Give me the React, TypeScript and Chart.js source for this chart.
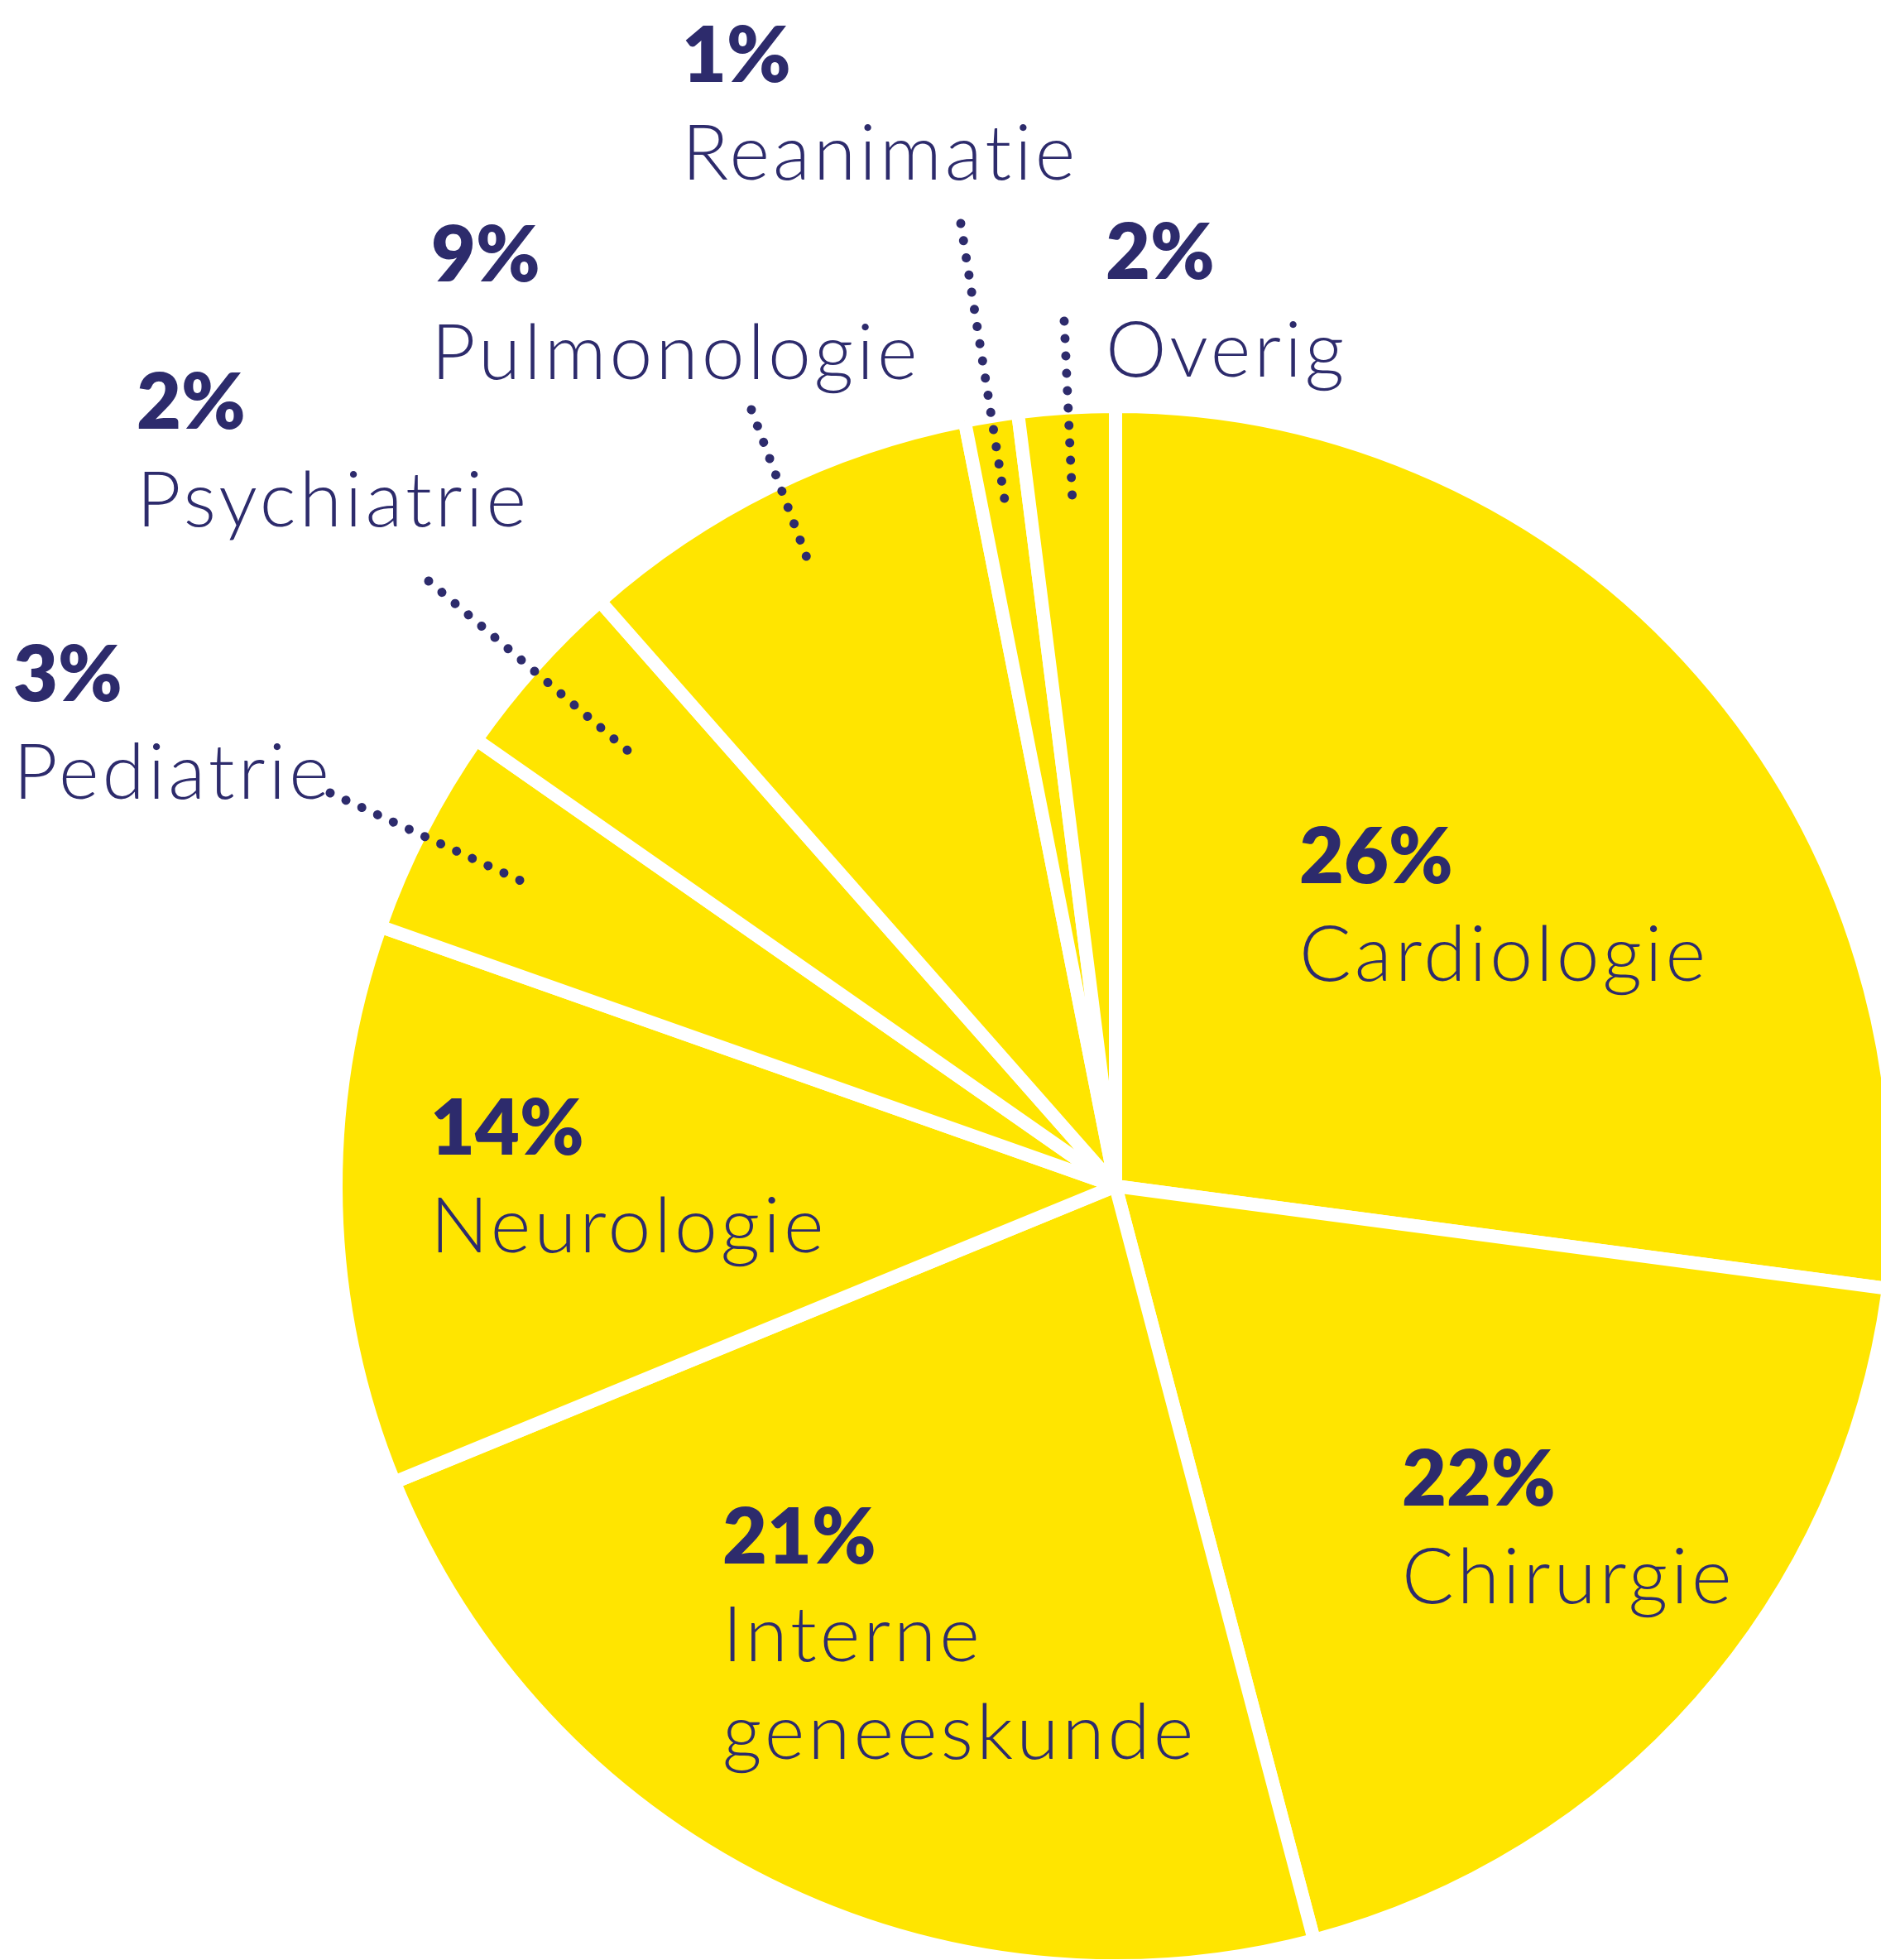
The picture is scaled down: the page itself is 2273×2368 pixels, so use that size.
import { useEffect, useRef } from "react";
import { Chart, registerables } from "chart.js";

Chart.register(...registerables);

// ---- data ----
const categories = [
  "Cardiologie",
  "Chirurgie",
  "Interne geneeskunde",
  "Neurologie",
  "Pediatrie",
  "Psychiatrie",
  "Pulmonologie",
  "Reanimatie",
  "Overig",
];
// slice sizes as drawn in the picture (share of the full circle, %)
const sliceShares = [27.1, 18.8, 22.9, 11.6, 4.3, 3.8, 8.4, 1.1, 2.0];
// percentages as printed on the picture
const percentLabels = ["26%", "22%", "21%", "14%", "3%", "2%", "9%", "1%", "2%"];
// category names as printed (line breaks)
const nameLines = [
  ["Cardiologie"],
  ["Chirurgie"],
  ["Interne", "geneeskunde"],
  ["Neurologie"],
  ["Pediatrie"],
  ["Psychiatrie"],
  ["Pulmonologie"],
  ["Reanimatie"],
  ["Overig"],
];

// ---- layout / style ----
const W = 2273;
const H = 2368;
const SLICE_COLOR = "#ffe500";
const TEXT_COLOR = "#2d2b6c";
const FONT_FAMILY = "Lato, 'Open Sans', sans-serif";
const FONT_SIZE = 93;
const LINE_GAP = 118;

type LabelLayout = { x: number; y: number; leader?: { x: number; y: number; r: number } };
const labelLayout: LabelLayout[] = [
  { x: 1570, y: 1067 },
  { x: 1694, y: 1819 },
  { x: 873, y: 1889 },
  { x: 520, y: 1395 },
  { x: 16, y: 847, leader: { x: 399, y: 958, r: 0.862 } },
  { x: 165, y: 518, leader: { x: 518, y: 702, r: 0.84 } },
  { x: 521, y: 340, leader: { x: 908, y: 495, r: 0.888 } },
  { x: 824, y: 99, leader: { x: 1161, y: 270, r: 0.894 } },
  { x: 1336, y: 337, leader: { x: 1286, y: 388, r: 0.89 } },
];

const labelPlugin = {
  id: "sliceLabels",
  afterDatasetsDraw(chart: any) {
    const ctx = chart.ctx as CanvasRenderingContext2D;
    const meta = chart.getDatasetMeta(0);
    meta.data.forEach((arc: any, i: number) => {
      const lay = labelLayout[i];
      const p = arc.getProps(["x", "y", "startAngle", "endAngle", "outerRadius"], true);
      if (lay.leader) {
        const mid = (p.startAngle + p.endAngle) / 2;
        const visibleR = p.outerRadius - 8;
        const ex = p.x + Math.cos(mid) * visibleR * lay.leader.r;
        const ey = p.y + Math.sin(mid) * visibleR * lay.leader.r;
        ctx.save();
        ctx.strokeStyle = TEXT_COLOR;
        ctx.lineWidth = 11;
        ctx.lineCap = "round";
        ctx.setLineDash([0.01, 21]);
        ctx.beginPath();
        ctx.moveTo(lay.leader.x, lay.leader.y);
        ctx.lineTo(ex, ey);
        ctx.stroke();
        ctx.restore();
      }
      ctx.save();
      ctx.fillStyle = TEXT_COLOR;
      ctx.textAlign = "left";
      ctx.textBaseline = "alphabetic";
      (ctx as any).letterSpacing = "0px";
      ctx.font = `800 ${FONT_SIZE}px ${FONT_FAMILY}`;
      ctx.fillText(percentLabels[i], lay.x, lay.y);
      ctx.font = `300 ${FONT_SIZE}px ${FONT_FAMILY}`;
      (ctx as any).letterSpacing = "4px";
      nameLines[i].forEach((line, k) => {
        ctx.fillText(line, lay.x, lay.y + LINE_GAP * (k + 1));
      });
      (ctx as any).letterSpacing = "0px";
      ctx.restore();
    });
  },
};

export default function App() {
  const ref = useRef<HTMLCanvasElement>(null);
  useEffect(() => {
    document.body.style.margin = "0";
    document.documentElement.style.overflow = "hidden";
    const canvas = ref.current!;
    const chart = new Chart(canvas, {
      type: "pie",
      data: {
        labels: categories,
        datasets: [
          {
            data: sliceShares,
            backgroundColor: SLICE_COLOR,
            borderColor: "#ffffff",
            borderWidth: 16,
            radius: 942,
          } as any,
        ],
      },
      options: {
        responsive: false,
        animation: false,
        rotation: 0,
        layout: { padding: { left: 423, top: 498, right: 0, bottom: 0 } },
        plugins: { legend: { display: false }, tooltip: { enabled: false } },
      },
      plugins: [labelPlugin],
    });
    return () => chart.destroy();
  }, []);
  return (
    <div style={{ position: "absolute", left: 0, top: 0, width: W, height: H, background: "#fff" }}>
      <canvas ref={ref} width={W} height={H} style={{ display: "block", width: W, height: H }} />
    </div>
  );
}
